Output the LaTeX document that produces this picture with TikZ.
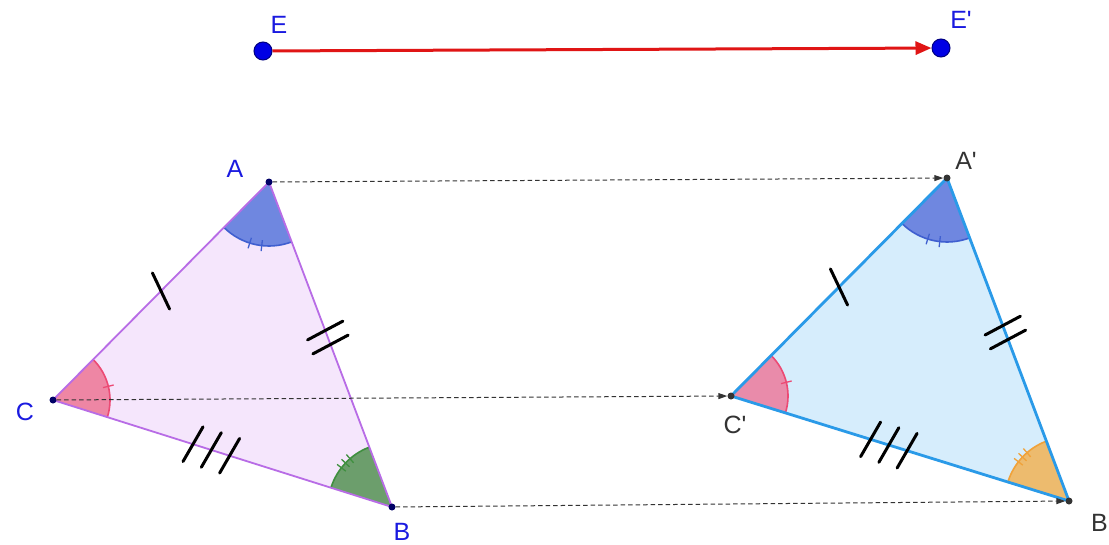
\documentclass[tikz,border=0pt]{standalone}
\usepackage{fontspec}
\setmainfont{Liberation Sans}
\usetikzlibrary{calc,angles,arrows.meta}
\definecolor{pinkfill}{HTML}{F5E6FC}
\definecolor{pinkedge}{HTML}{B86CE6}
\definecolor{bluefill}{HTML}{D6EDFC}
\definecolor{blueedge}{HTML}{2A9AE8}
\definecolor{angAfill}{HTML}{6F87E0}
\definecolor{angAline}{HTML}{3F5FD0}
\definecolor{angCfill}{HTML}{EE86A4}
\definecolor{angCpfill}{HTML}{E98BAA}
\definecolor{angCline}{HTML}{EC4A74}
\definecolor{angBfill}{HTML}{6C9E6C}
\definecolor{angBline}{HTML}{3F8F3F}
\definecolor{angBpfill}{HTML}{EDBB6E}
\definecolor{angBpline}{HTML}{F0A23A}
\definecolor{ptblue}{HTML}{1A1AE0}
\definecolor{labgray}{HTML}{333333}
\definecolor{vecred}{HTML}{E01515}
\newcommand\atick[4]{\draw[#4] ($(#1)+(#2:#3pt-5.5pt)$) -- ($(#1)+(#2:#3pt+5.5pt)$);}
\newcommand\stick[3]{\coordinate (tk) at ($(#1)+(#3:20pt)$);\coordinate (tk2) at ($(#1)+(#3+180:20pt)$);\draw[sidetick] (tk) -- (tk2);}
\begin{document}
\begin{tikzpicture}[x=1pt,y=1pt,
  sidetick/.style={line width=3pt,line cap=round,black},
  trans/.style={dash pattern=on 4.5pt off 3pt,line width=1pt,labgray,-{Triangle[length=9pt,width=6pt]}},
  vec/.style={line width=3pt,vecred,-{Triangle[length=16pt,width=13pt]}},
  bigdot/.style={circle,fill=blue!90!black,draw=blue!50!black,line width=1pt,minimum size=18pt,inner sep=0pt},
  vdot/.style={circle,fill=blue!40!black,minimum size=7pt,inner sep=0pt},
  vpdot/.style={circle,fill=labgray,minimum size=7pt,inner sep=0pt},
  lab/.style={font=\fontsize{25}{25}\selectfont,inner sep=0pt,text=ptblue},
  labp/.style={font=\fontsize{25}{25}\selectfont,inner sep=0pt,text=labgray}]
\useasboundingbox (0,0) rectangle (1109,-544);
\fill[white] (0,0) rectangle (1109,-544);
% points
\coordinate (E) at (263,-51);
\coordinate (Ep) at (941,-48);
\coordinate (A) at (269,-182);
\coordinate (B) at (392,-507);
\coordinate (C) at (53,-400);
\coordinate (Ap) at (947,-178);
\coordinate (Bp) at (1069,-501);
\coordinate (Cp) at (731,-396);
% fills
\fill[pinkfill] (A) -- (B) -- (C) -- cycle;
\fill[bluefill] (Ap) -- (Bp) -- (Cp) -- cycle;
% angles
\pic[draw=angAline,fill=angAfill,line width=1.6pt,angle radius=64pt] {angle=C--A--B};
\pic[draw=angCline,fill=angCfill,line width=1.6pt,angle radius=57pt] {angle=B--C--A};
\pic[draw=angBline,fill=angBfill,line width=1.6pt,angle radius=64pt] {angle=A--B--C};
\pic[draw=angAline,fill=angAfill,line width=1.6pt,angle radius=64pt] {angle=Cp--Ap--Bp};
\pic[draw=angCline,fill=angCpfill,line width=1.6pt,angle radius=57pt] {angle=Bp--Cp--Ap};
\pic[draw=angBpline,fill=angBpfill,line width=1.6pt,angle radius=64pt] {angle=Ap--Bp--Cp};
% angle ticks
\atick{A}{-107.5}{64}{angAline,line width=1.3pt}
\atick{A}{-96.5}{64}{angAline,line width=1.3pt}
\atick{C}{13.9}{57}{angCline,line width=1.3pt}
\atick{B}{131}{64}{angBline,line width=1.3pt}
\atick{B}{136.6}{64}{angBline,line width=1.3pt}
\atick{B}{142.2}{64}{angBline,line width=1.3pt}
\atick{Ap}{-107.5}{64}{angAline,line width=1.3pt}
\atick{Ap}{-96.5}{64}{angAline,line width=1.3pt}
\atick{Cp}{13.9}{57}{angCline,line width=1.3pt}
\atick{Bp}{131}{64}{angBpline,line width=1.3pt}
\atick{Bp}{136.6}{64}{angBpline,line width=1.3pt}
\atick{Bp}{142.2}{64}{angBpline,line width=1.3pt}
% edges
\draw[pinkedge,line width=1.8pt,line join=round] (A) -- (B) -- (C) -- cycle;
\draw[blueedge,line width=2.8pt,line join=round] (Ap) -- (Bp) -- (Cp) -- cycle;
% side ticks
\foreach \P/\Q/\R in {A/B/C, Ap/Bp/Cp}{
  \coordinate (m1) at ($(\P)!0.5!(\R)$);
  \stick{m1}{0}{-64.6}
  \coordinate (m2) at ($(\P)!0.457!(\Q)$);
  \stick{m2}{0}{28}
  \coordinate (m3) at ($(\P)!0.50!(\Q)$);
  \stick{m3}{0}{28}
  \coordinate (m4) at ($(\R)!0.413!(\Q)$);
  \stick{m4}{0}{60}
  \coordinate (m5) at ($(\R)!0.467!(\Q)$);
  \stick{m5}{0}{60}
  \coordinate (m6) at ($(\R)!0.521!(\Q)$);
  \stick{m6}{0}{60}
}
% dots
\node[bigdot] (dE) at (E) {};
\node[bigdot] (dEp) at (Ep) {};
\node[vdot] (dA) at (A) {};
\node[vdot] (dB) at (B) {};
\node[vdot] (dC) at (C) {};
\node[vpdot] (dAp) at (Ap) {};
\node[vpdot] (dBp) at (Bp) {};
\node[vpdot] (dCp) at (Cp) {};
% translation lines
\draw[trans] (dA) -- (dAp);
\draw[trans] (dB) -- (dBp);
\draw[trans] (dC) -- (dCp);
\draw[vec] (dE) -- (dEp);
% labels
\node[lab] (lE) at (279,-25) {E};
\node[lab] (lEp) at (961,-20) {E\textquotesingle};
\node[lab] (lA) at (235,-169) {A};
\node[lab] (lB) at (402,-532) {B};
\node[lab] (lC) at (25,-412) {C};
\node[labp] (lAp) at (966,-161) {A\textquotesingle};
\node[labp] (lCp) at (735,-425) {C\textquotesingle};
\node[labp,anchor=west] (lBp) at (1091,-523) {B\textquotesingle};
\end{tikzpicture}
\end{document}
